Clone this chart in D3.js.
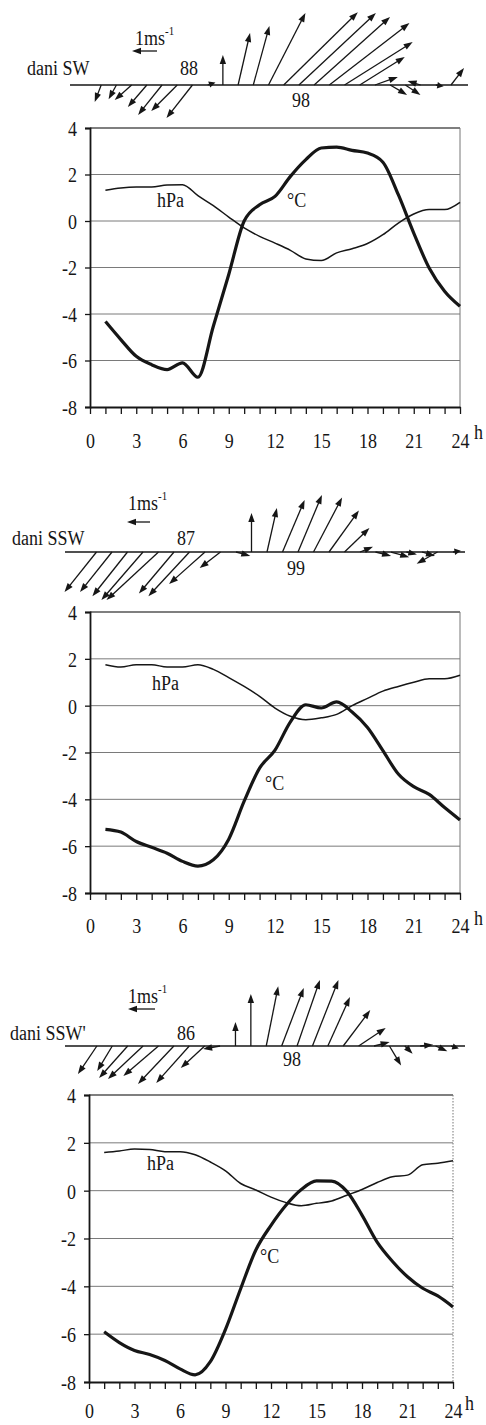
<!DOCTYPE html>
<html><head><meta charset="utf-8">
<script src="https://cdn.jsdelivr.net/npm/d3@7"></script>
<style>body{margin:0;background:#fff}svg{display:block}text{font-family:"Liberation Serif","DejaVu Serif",serif}</style>
</head><body><svg id="c" width="486" height="1425"></svg>
<script>
// ---------- DATA ----------
const hours = d3.range(1, 25);
const xTickValues = d3.range(0, 25);
const xLabelHours = [0, 3, 6, 9, 12, 15, 18, 21, 24];
const yTicks = [4, 2, 0, -2, -4, -6, -8];
const panelNames = ["dani SW", "dani SSW", "dani SSW'"];
const countsTop = ["88", "87", "86"];
const countsBottom = ["98", "99", "98"];
const pressureLabel = "hPa";
const tempLabel = "°C";

const pressure1 = [1.32,1.42,1.46,1.46,1.55,1.56,1.09,0.66,0.17,-0.3,-0.66,-0.95,-1.26,-1.63,-1.7,-1.37,-1.19,-0.97,-0.59,-0.09,0.3,0.49,0.49,0.8];
const temp1 = [-4.32,-5.1,-5.82,-6.18,-6.39,-6.1,-6.72,-4.53,-2.3,0.0,0.7,1.06,1.92,2.64,3.14,3.18,3.04,2.92,2.53,1.13,-0.52,-2.02,-3.02,-3.67];
const windU1 = [-0.25,-0.3,-0.65,-0.73,-0.92,-1.0,-1.0,0.3,0,0.46,0.62,1.42,2.85,2.96,2.92,3.08,2.62,1.73,0.88,0.65,0.58,-0.5,0.3,0.5];
const windV1 = [-0.65,-0.55,-0.58,-0.85,-1.15,-1.0,-1.27,0.1,1.15,2.0,2.27,2.77,2.8,2.77,2.62,2.38,1.65,1.08,0.31,-0.38,-0.38,0.15,-0.05,0.65];

const pressure2 = [1.75,1.65,1.75,1.75,1.65,1.65,1.75,1.55,1.2,0.82,0.4,-0.1,-0.45,-0.6,-0.52,-0.37,0.0,0.31,0.62,0.82,1.0,1.15,1.15,1.3];
const temp2 = [-5.28,-5.4,-5.8,-6.05,-6.3,-6.65,-6.85,-6.58,-5.7,-4.08,-2.67,-1.9,-0.69,0.04,-0.1,0.16,-0.27,-0.93,-1.92,-2.92,-3.46,-3.79,-4.35,-4.88];
const windU2 = [-1.23,-1.23,-1.35,-1.6,-2.0,-1.35,-1.58,-1.38,-0.8,0.55,0,0.38,0.85,0.92,1.1,1.15,0.96,0.5,0.6,0.7,0.4,0.5,-0.8,0.3];
const windV2 = [-1.54,-1.54,-1.7,-1.85,-1.85,-1.6,-1.7,-1.23,-0.62,-0.15,1.5,1.69,2.0,2.19,2.1,1.6,0.92,0.2,-0.15,-0.2,-0.1,-0.15,-0.45,0.05];

const pressure3 = [1.6,1.66,1.74,1.72,1.63,1.63,1.5,1.2,0.83,0.3,0.03,-0.27,-0.5,-0.63,-0.53,-0.43,-0.19,0.05,0.34,0.58,0.65,1.08,1.15,1.25];
const temp3 = [-5.9,-6.35,-6.68,-6.85,-7.1,-7.45,-7.7,-7.15,-5.8,-4.1,-2.48,-1.45,-0.6,0.05,0.41,0.4,-0.03,-1.02,-2.15,-2.95,-3.6,-4.08,-4.4,-4.86];
const windU3 = [-0.73,-0.58,-1.1,-1.35,-1.35,-1.38,-1.27,-0.92,-0.65,0,0,0.46,0.85,0.88,1.0,0.85,1.04,1.04,0.6,0.45,0.3,0.5,0.45,0.3];
const windV3 = [-1.08,-0.96,-1.23,-1.27,-1.15,-1.46,-1.42,-0.85,-0.12,0.92,2.0,2.3,2.23,2.54,2.54,1.88,1.38,0.69,0.15,-0.75,-0.3,0.05,-0.2,-0.1];

const pressures = [pressure1, pressure2, pressure3];
const temps = [temp1, temp2, temp3];
const windUs = [windU1, windU2, windU3];
const windVs = [windV1, windV2, windV3];

// ---------- LAYOUT ----------
const layout = [
  {cx:[90,460], cy:[128,407], wx:[86,451], wy:85, base:[70,468],
   name:[27,75], top:[180,75], bot:[292,107], unit:[135,45], unitArrow:[157,132,51],
   hpa:[157,207], tc:[287,207], hx:474, lab:41, hy:32, dotRight:false},
  {cx:[90,460], cy:[612,893], wx:[81,453], wy:552, base:[65,465],
   name:[12,545], top:[177,545], bot:[287,575], unit:[128,510], unitArrow:[150,127,522],
   hpa:[152,690], tc:[265,790], hx:474, lab:40, hy:32, dotRight:false},
  {cx:[89,453], cy:[1095,1382], wx:[81.5,451], wy:1046, base:[65,465],
   name:[10,1040], top:[177,1040], bot:[283,1066], unit:[128,1003], unitArrow:[155,128,1009],
   hpa:[147,1170], tc:[260,1263], hx:465, lab:36, hy:28, dotRight:true}
];
const K = 26; // px per m/s
const INK = "#161616";
const SY = 1.2;

const svg = d3.select("#c");

function txt(g, x, y, s, size, anchor) {
  return g.append("text")
    .attr("transform", `translate(${x},${y}) scale(1,${SY})`)
    .attr("font-size", size || 18)
    .attr("text-anchor", anchor || "start").attr("fill", INK).text(s);
}

function arrow(g, x1, y1, x2, y2, hl, hw) {
  const dx = x2 - x1, dy = y2 - y1, L = Math.hypot(dx, dy);
  if (L < 0.5) return;
  const ux = dx / L, uy = dy / L;
  const h = Math.min(hl, L * 0.8);
  g.append("line").attr("x1", x1).attr("y1", y1)
    .attr("x2", x2 - ux * h * 0.6).attr("y2", y2 - uy * h * 0.6)
    .attr("stroke", INK).attr("stroke-width", 1.3);
  const bx = x2 - ux * h, by = y2 - uy * h;
  g.append("path")
    .attr("d", `M${x2},${y2}L${bx - uy * hw},${by + ux * hw}L${bx + uy * hw},${by - ux * hw}Z`)
    .attr("fill", INK);
}

layout.forEach((L, i) => {
  const g = svg.append("g");
  // wind row
  g.append("line").attr("x1", L.base[0]).attr("x2", L.base[1])
    .attr("y1", L.wy).attr("y2", L.wy).attr("stroke", INK).attr("stroke-width", 1.6);
  const xw = d3.scaleLinear().domain([0, 24]).range(L.wx);
  const vs = d3.scaleLinear().domain([0, 1]).range([0, K]);
  hours.forEach((h, j) => {
    const x0 = xw(h), y0 = L.wy;
    arrow(g, x0, y0, x0 + vs(windUs[i][j]), y0 - vs(windVs[i][j]), 9, 3.2);
  });
  arrow(g, L.unitArrow[0], L.unitArrow[2], L.unitArrow[1], L.unitArrow[2], 9, 3.2);
  const ut = txt(g, L.unit[0], L.unit[1], "1ms", 18);
  ut.append("tspan").attr("font-size", 11).attr("dy", -8).text("-1");
  txt(g, L.name[0], L.name[1], panelNames[i], 18);
  txt(g, L.top[0], L.top[1], countsTop[i], 18);
  txt(g, L.bot[0], L.bot[1], countsBottom[i], 18);

  // chart
  const x = d3.scaleLinear().domain([0, 24]).range(L.cx);
  const y = d3.scaleLinear().domain([-8, 4]).range([L.cy[1], L.cy[0]]);
  g.append("g").selectAll("line").data(yTicks.filter(v => v > -8 && v < 4)).join("line")
    .attr("x1", L.cx[0]).attr("x2", L.cx[1]).attr("y1", d => y(d)).attr("y2", d => y(d))
    .attr("stroke", "#7a7a7a").attr("stroke-width", 1);
  g.append("line").attr("x1", L.cx[0]).attr("x2", L.cx[1]).attr("y1", y(4)).attr("y2", y(4))
    .attr("stroke", "#555").attr("stroke-width", 1.6);
  g.append("line").attr("x1", L.cx[1]).attr("x2", L.cx[1]).attr("y1", y(4)).attr("y2", y(-8))
    .attr("stroke", "#777").attr("stroke-width", 1)
    .attr("stroke-dasharray", L.dotRight ? "1.5,1.5" : null);
  const ya = g.append("g").attr("transform", `translate(${L.cx[0]},0)`)
    .call(d3.axisLeft(y).tickValues(yTicks).tickSize(5).tickPadding(8).tickFormat(d => String(d)));
  ya.attr("font-family", null);
  ya.select(".domain").attr("stroke", INK).attr("stroke-width", 1.8);
  ya.selectAll(".tick line").attr("stroke", INK).attr("stroke-width", 1.3);
  ya.selectAll(".tick text").attr("font-size", 18).attr("fill", INK)
    .attr("dy", "0.34em").attr("transform", `scale(1,${SY})`);
  const xa = g.append("g").attr("transform", `translate(0,${y(-8)})`)
    .call(d3.axisBottom(x).tickValues(xTickValues).tickSize(7).tickSizeOuter(0)
      .tickFormat(d => xLabelHours.includes(d) ? String(d) : ""));
  xa.attr("font-family", null);
  xa.select(".domain").attr("stroke", INK).attr("stroke-width", 2);
  xa.selectAll(".tick line").attr("stroke", INK).attr("stroke-width", 1.3);
  xa.selectAll(".tick text").attr("font-size", 18).attr("fill", INK)
    .attr("y", 0).attr("dy", 0).attr("transform", `translate(0,${L.lab}) scale(1,${SY})`);
  txt(g, L.hx, y(-8) + L.hy, "h", 18);

  const line = d3.line().x((d, j) => x(hours[j])).y(d => y(d)).curve(d3.curveMonotoneX);
  g.append("path").attr("d", line(pressures[i])).attr("fill", "none")
    .attr("stroke", INK).attr("stroke-width", 1.5);
  g.append("path").attr("d", line(temps[i])).attr("fill", "none")
    .attr("stroke", INK).attr("stroke-width", 3.2).attr("stroke-linejoin", "round");
  txt(g, L.hpa[0], L.hpa[1], pressureLabel, 18);
  txt(g, L.tc[0], L.tc[1], tempLabel, 18);
});
</script></body></html>
